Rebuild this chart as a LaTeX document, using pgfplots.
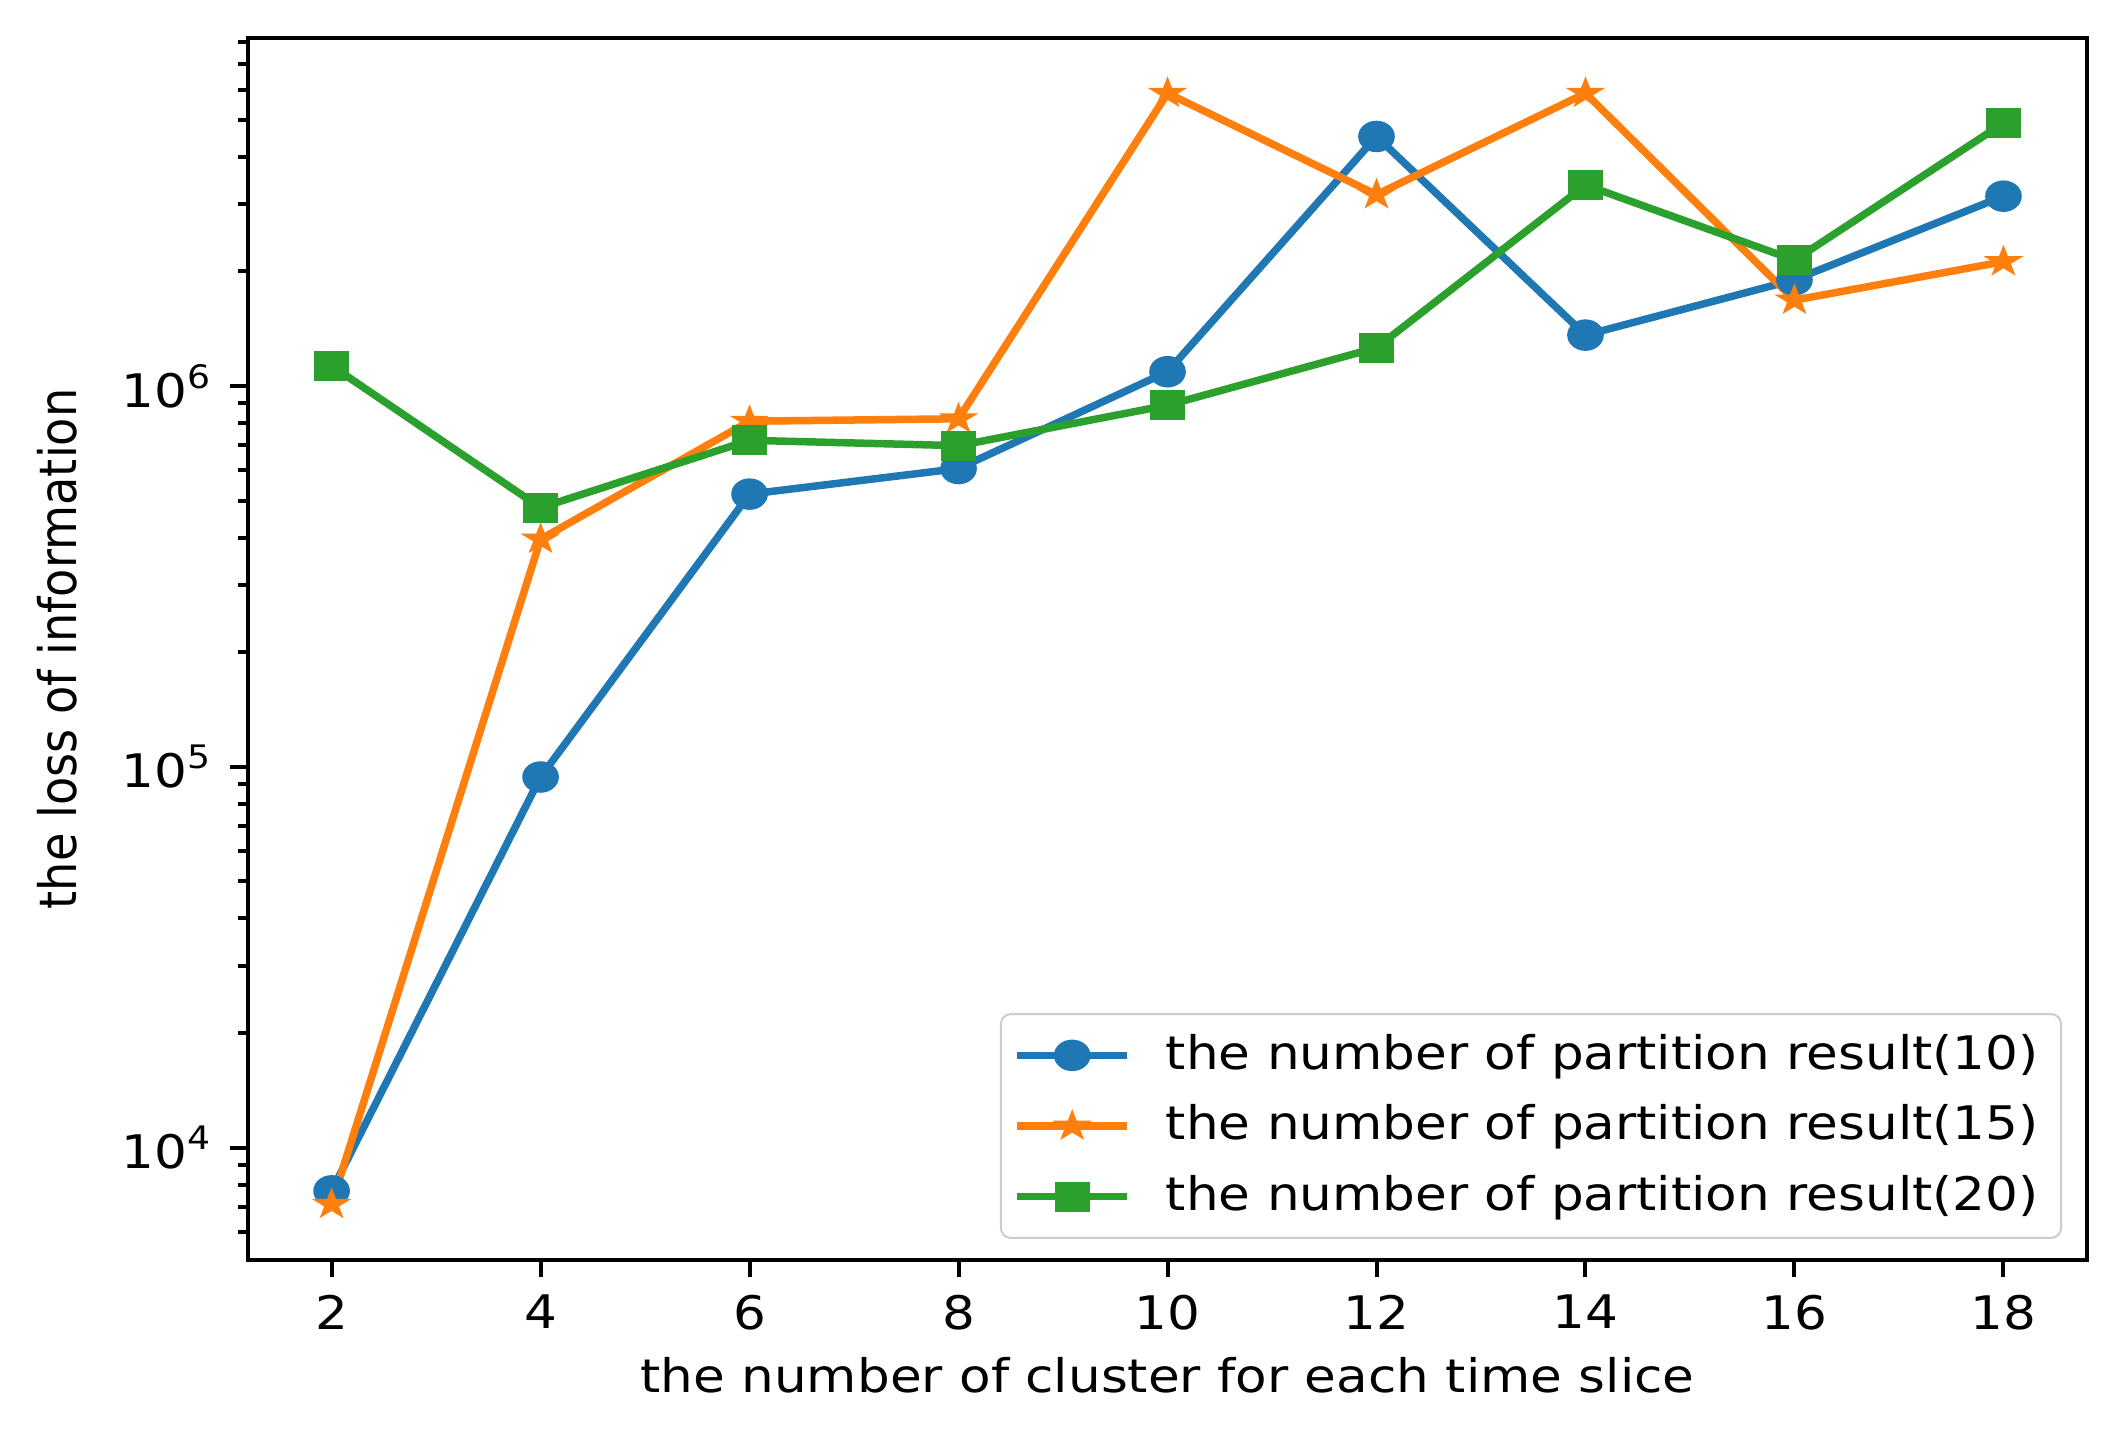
\documentclass[border=0pt]{standalone}
\usepackage{fontspec}
\setmainfont{DejaVu Sans}[FakeStretch=1.116]
\newfontfamily\ylabfont{DejaVu Sans}[FakeStretch=0.896]
\usepackage{pgfplots}
\pgfplotsset{compat=1.18}
\definecolor{c0}{HTML}{1F77B4}
\definecolor{c1}{HTML}{FF7F0E}
\definecolor{c2}{HTML}{2CA02C}
\pgfdeclareplotmark{mplstar}{%
  \pgfpathmoveto{\pgfpointpolar{90}{\pgfplotmarksize}}%
  \pgfpathlineto{\pgfpointpolar{126}{0.381966\pgfplotmarksize}}%
  \pgfpathlineto{\pgfpointpolar{162}{\pgfplotmarksize}}%
  \pgfpathlineto{\pgfpointpolar{198}{0.381966\pgfplotmarksize}}%
  \pgfpathlineto{\pgfpointpolar{234}{\pgfplotmarksize}}%
  \pgfpathlineto{\pgfpointpolar{270}{0.381966\pgfplotmarksize}}%
  \pgfpathlineto{\pgfpointpolar{306}{\pgfplotmarksize}}%
  \pgfpathlineto{\pgfpointpolar{342}{0.381966\pgfplotmarksize}}%
  \pgfpathlineto{\pgfpointpolar{18}{\pgfplotmarksize}}%
  \pgfpathlineto{\pgfpointpolar{54}{0.381966\pgfplotmarksize}}%
  \pgfpathclose
  \pgfusepathqfillstroke}
\begin{document}
\begin{tikzpicture}
\begin{axis}[
  name=ax,
  scale only axis,
  width=367.8pt, height=244.4pt,
  ymode=log,
  xmin=1.2, xmax=18.8,
  ymin=5070, ymax=8.2e6,
  axis line style={line width=0.8pt},
  tick style={line width=0.8pt, black},
  tick align=outside,
  tick pos=left,
  major tick length=3.5pt,
  minor tick length=2pt,
  xtick={2,4,6,8,10,12,14,16,18},
  xticklabels={2,4,6,8,10,12,14,16,18},
  ytick={1e4,1e5,1e6},
  yticklabels={10\textsuperscript{4},10\textsuperscript{5},10\textsuperscript{6}},
  minor ytick={6000,7000,8000,9000,20000,30000,40000,50000,60000,70000,80000,90000,200000,300000,400000,500000,600000,700000,800000,900000,2e6,3e6,4e6,5e6,6e6,7e6,8e6},
  ticklabel style={font=\fontsize{9.25}{11}\selectfont},
  xlabel={the number of cluster for each time slice},
  ylabel={the loss of information},
  xlabel style={font=\fontsize{9.25}{11}\selectfont, at={(axis description cs:0.5,-0.0941)}, anchor=center},
  ylabel style={font=\ylabfont\fontsize{10.32}{12}\selectfont, at={(axis description cs:-0.1035,0.5)}, anchor=center},
  legend cell align=left,
  legend style={at={(axis description cs:1,0)}, anchor=south east, xshift=-5pt, yshift=4.2pt,
    draw=black!20, rounded corners=2pt, fill=white,
    font=\fontsize{9.25}{11}\selectfont, row sep=1.6pt, inner xsep=2.5pt, inner ysep=2pt,
    /tikz/every odd column/.append style={column sep=5pt}},
  legend image code/.code={\draw[mark repeat=2,mark phase=2] plot coordinates {(0pt,0pt)(11pt,0pt)(22pt,0pt)};},
]
\addplot[c0, line width=1.5pt, mark=*, mark size=2.85pt, mark options={line width=0.6pt, fill=c0, xscale=1.18}] coordinates {
(2,7.7e3) (4,9.4e4) (6,5.2e5) (8,6.07e5) (10,1.09e6) (12,4.52e6) (14,1.36e6) (16,1.90e6) (18,3.15e6)};
\addlegendentry{the number of partition result(10)}
\addplot[c1, line width=1.5pt, mark=mplstar, mark size=2.55pt, mark options={line width=0.6pt, fill=c1, xscale=1.2}] coordinates {
(2,7.1e3) (4,3.96e5) (6,8.08e5) (8,8.2e5) (10,5.87e6) (12,3.18e6) (14,5.87e6) (16,1.68e6) (18,2.12e6)};
\addlegendentry{the number of partition result(15)}
\addplot[c2, line width=1.5pt, mark=square*, mark size=2.7pt, mark options={line width=0.6pt, fill=c2, xscale=1.17}] coordinates {
(2,1.13e6) (4,4.79e5) (6,7.2e5) (8,6.97e5) (10,8.9e5) (12,1.26e6) (14,3.37e6) (16,2.14e6) (18,4.9e6)};
\addlegendentry{the number of partition result(20)}
\end{axis}
\path (ax.south west) ++(-49.6pt,-36pt) (ax.north east) ++(7.4pt,7.6pt);
\end{tikzpicture}
\end{document}
